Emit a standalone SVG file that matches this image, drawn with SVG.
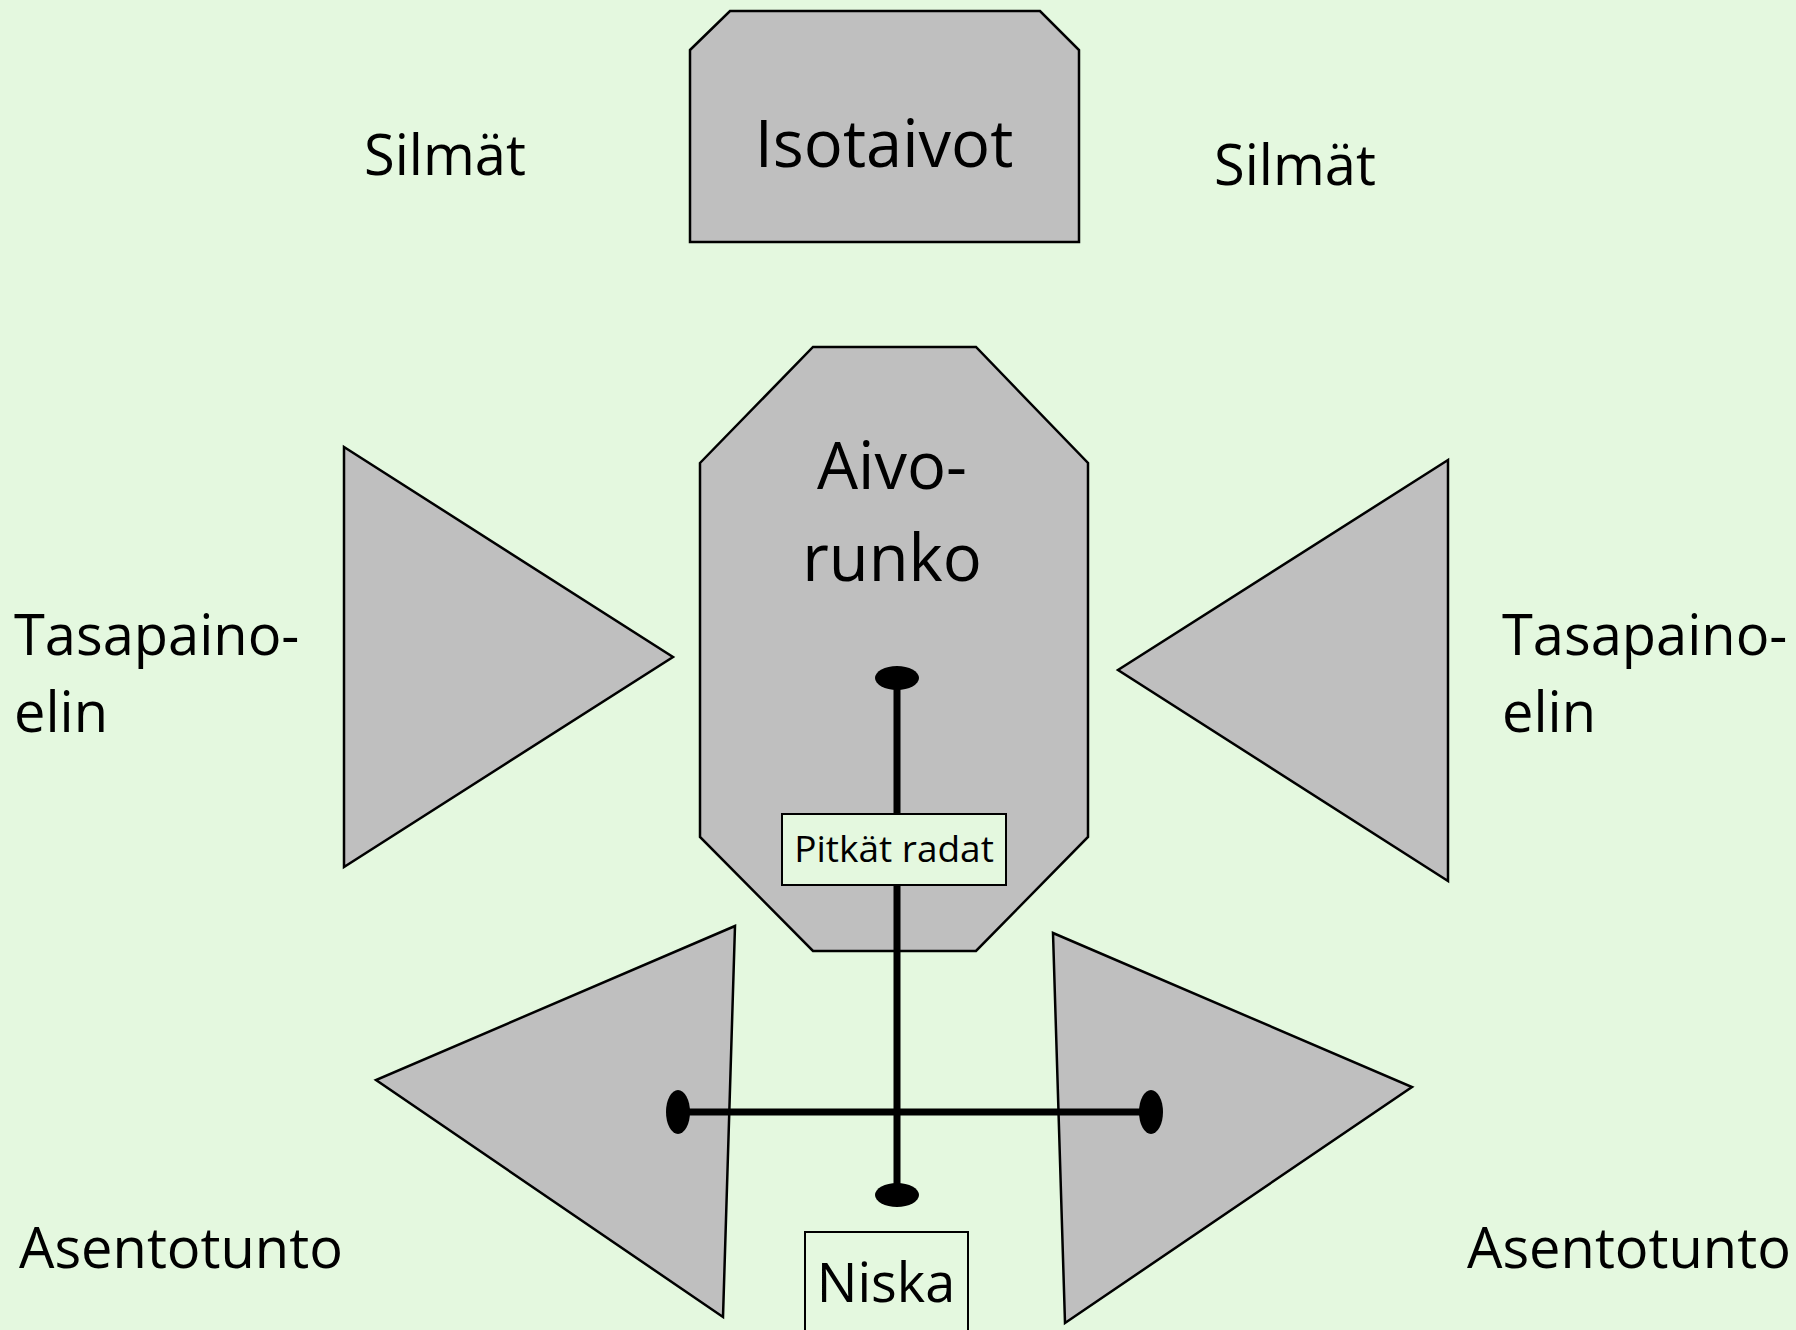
<svg xmlns="http://www.w3.org/2000/svg" width="1796" height="1330" viewBox="0 0 1796 1330">
<style>
.shape{fill:#BFBFBF;stroke:#000;stroke-width:2.5;stroke-linejoin:miter}
.box{fill:#E4F8DF;stroke:#000;stroke-width:2}
.t{font-family:"Open Sans","Noto Sans","Liberation Sans",sans-serif;fill:#000}
.lbl{font-size:56px}
.nk{font-size:54px}
.big{font-size:65px}
.mid{font-size:65px}
.small{font-size:37px}
.wire{stroke:#000;stroke-width:7;fill:none}
.dot{fill:#000}
</style>
<rect width="1796" height="1330" fill="#E4F8DF"/>
<g id="isotaivot">
<polygon class="shape" points="690,50 730,11 1040,11 1079,50 1079,242 690,242"/>
<text class="t big" x="884" y="167" text-anchor="middle">Isotaivot</text>
</g>
<g id="silmat-left"><text class="t lbl" x="364" y="175">Silmät</text></g>
<g id="silmat-right"><text class="t lbl" x="1214" y="185">Silmät</text></g>
<g id="tasapaino-left-shape"><polygon class="shape" points="344,447 673,657 344,867"/></g>
<g id="tasapaino-right-shape"><polygon class="shape" points="1448,460 1118,670 1448,881"/></g>
<g id="asento-left-shape"><polygon class="shape" points="735,926 376,1080 723,1317"/></g>
<g id="asento-right-shape"><polygon class="shape" points="1053,933 1412,1087 1065,1323"/></g>
<g id="aivorunko">
<polygon class="shape" points="700,463 813,347 976,347 1088,463 1088,837 976,951 813,951 700,837"/>
<text class="t mid" x="892" y="489" text-anchor="middle">Aivo-</text>
<text class="t mid" x="892" y="581" text-anchor="middle">runko</text>
</g>
<g id="tasapaino-left-label"><text class="t lbl" x="14" y="655">Tasapaino-</text><text class="t lbl" x="14" y="732">elin</text></g>
<g id="tasapaino-right-label"><text class="t lbl" x="1502" y="655">Tasapaino-</text><text class="t lbl" x="1502" y="732">elin</text></g>
<g id="asento-left-label"><text class="t lbl" x="19" y="1268">Asentotunto</text></g>
<g id="asento-right-label"><text class="t lbl" x="1467" y="1268">Asentotunto</text></g>
<g id="connectors">
<line class="wire" x1="897" y1="678" x2="897" y2="1195"/>
<line class="wire" x1="678" y1="1112" x2="1151" y2="1112"/>
<ellipse class="dot" cx="897" cy="678" rx="22" ry="12"/>
<ellipse class="dot" cx="897" cy="1195" rx="22" ry="12"/>
<ellipse class="dot" cx="678" cy="1112" rx="12" ry="22"/>
<ellipse class="dot" cx="1151" cy="1112" rx="12" ry="22"/>
</g>
<g id="pitkat-radat">
<rect class="box" x="782" y="814" width="224" height="71"/>
<text class="t small" x="894" y="862" text-anchor="middle">Pitkät radat</text>
</g>
<g id="niska">
<rect class="box" x="805" y="1232" width="163" height="100"/>
<text class="t nk" x="886" y="1302" text-anchor="middle">Niska</text>
</g>
</svg>
